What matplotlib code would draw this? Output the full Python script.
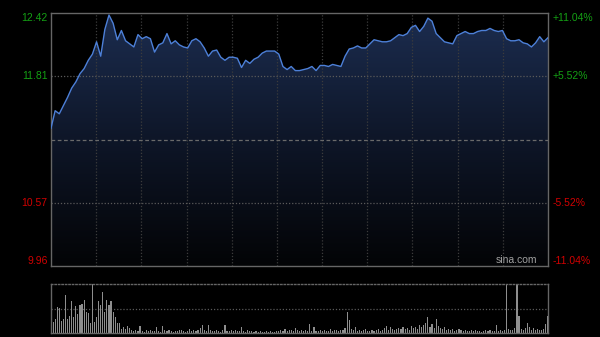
# import packages
import numpy as np
import matplotlib.pyplot as plt
from matplotlib.colors import LinearSegmentedColormap
from matplotlib.patches import Polygon

# data: intraday price sampled every 2 minutes, volume per minute
price = [11.30, 11.47, 11.44, 11.52, 11.60, 11.69, 11.75, 11.83, 11.88, 11.96,
         12.02, 12.14, 12.00, 12.26, 12.40, 12.32, 12.16, 12.25, 12.15, 12.12,
         12.09, 12.21, 12.17, 12.19, 12.17, 12.04, 12.11, 12.13, 12.22, 12.12,
         12.15, 12.11, 12.09, 12.08, 12.15, 12.17, 12.14, 12.08, 12.00, 12.05,
         12.06, 11.99, 11.96, 11.99, 11.99, 11.98, 11.89, 11.96, 11.93, 11.97,
         11.99, 12.03, 12.05, 12.05, 12.05, 12.02, 11.90, 11.87, 11.90, 11.86,
         11.86, 11.87, 11.88, 11.90, 11.86, 11.91, 11.91, 11.90, 11.92, 11.91,
         11.90, 12.00, 12.07, 12.08, 12.10, 12.08, 12.08, 12.12, 12.16, 12.15,
         12.14, 12.14, 12.15, 12.18, 12.21, 12.20, 12.22, 12.28, 12.30, 12.24,
         12.29, 12.37, 12.34, 12.22, 12.18, 12.14, 12.13, 12.12, 12.20, 12.22,
         12.24, 12.22, 12.22, 12.24, 12.25, 12.25, 12.27, 12.25, 12.24, 12.25,
         12.17, 12.15, 12.15, 12.16, 12.13, 12.12, 12.09, 12.13, 12.19, 12.14,
         12.18]

volume = [42, 32, 40, 75, 72, 35, 42, 109, 40, 50, 92, 47, 77, 55, 82, 85, 95, 60, 59, 30,
          142, 32, 45, 92, 80, 120, 62, 95, 80, 92, 62, 47, 30, 29, 12, 17, 12, 19, 15, 8,
          6, 9, 5, 19, 7, 4, 10, 6, 8, 5, 7, 17, 6, 4, 20, 8, 5, 9, 6, 4, 7,
          5, 8, 10, 6, 4, 7, 12, 5, 9, 6, 8, 14, 22, 9, 6, 22, 10, 7, 5, 8,
          6, 4, 9, 24, 7, 5, 8, 6, 10, 5, 7, 16, 6, 4, 8, 5, 7, 3, 6, 4,
          5, 3, 4, 6, 3, 5, 4, 3, 6, 5, 9, 7, 12, 6, 8, 10, 7, 15, 9, 6,
          8, 5, 9, 7, 25, 6, 18, 7, 5, 8, 6, 9, 5, 7, 12, 6, 8, 10, 7, 9,
          8, 14, 61, 37, 12, 9, 16, 7, 10, 6, 8, 12, 7, 5, 9, 6, 8, 11, 7, 10,
          14, 19, 10, 16, 12, 9, 13, 15, 11, 17, 12, 14, 10, 20, 15, 18, 12, 24, 16, 22,
          30, 45, 18, 25, 15, 40, 20, 14, 12, 16, 10, 13, 9, 11, 7, 9, 12, 8, 6, 10,
          7, 5, 8, 6, 9, 5, 7, 4, 6, 10, 5, 8, 6, 7, 22, 5, 8, 6, 9, 142,
          12, 8, 10, 14, 142, 49, 12, 9, 15, 30, 18, 10, 14, 9, 12, 8, 10, 13, 27, 50]

prev_close = 11.19
levels = [12.42, 11.81, 10.57, 9.96]
left_labels = ['12.42', '11.81', '10.57', '9.96']
right_labels = ['+11.04%', '+5.52%', '-5.52%', '-11.04%']

# plot setting
font = 'Liberation Sans'
fs = 7.5
green = '#14a014'
red = '#d20000'
grid_c = '#3c3c3c'
spine_c = '#666666'
y_min, y_max = levels[-1], levels[0]
t_end = 240

fig = plt.figure(figsize=(6, 3.37), dpi=100, facecolor='black')

# price panel
ax = fig.add_axes([51/600, 1-266/337, 497/600, 253/337])
ax.set_facecolor('black')
t = np.linspace(0, t_end, len(price))

# gradient fill under the line
verts = [(0, y_min)] + list(zip(t, price)) + [(t_end, y_min)]
clip = Polygon(verts, closed=True, facecolor='none', edgecolor='none')
ax.add_patch(clip)
cmap = LinearSegmentedColormap.from_list('fill', ['#030406', '#0e1628', '#1c2d50'])
grad = np.linspace(0, 1, 256).reshape(-1, 1)
im = ax.imshow(grad, cmap=cmap, aspect='auto', origin='lower',
               extent=[0, t_end, y_min, y_max], zorder=1)
im.set_clip_path(clip)

for xv in np.linspace(0, t_end, 12)[1:-1]:
    ax.axvline(xv, color=grid_c, lw=0.9, ls=(0, (1, 1.5)), zorder=2)
for yv in [levels[1], levels[2]]:
    ax.axhline(yv, color='#5a5a5a', lw=0.9, ls=(0, (1, 1.5)), zorder=2)
ax.axhline(prev_close, color='#6a6a6a', lw=0.9, ls=(0, (3, 2)), zorder=2)

ax.plot(t, price, color='#4d80d8', lw=1.0, zorder=3)

ax.set_xlim(0, t_end)
ax.set_ylim(y_min, y_max)
ax.set_xticks([])
ax.set_yticks([])
for s in ax.spines.values():
    s.set_color(spine_c)
    s.set_linewidth(1)

trans = ax.get_yaxis_transform()
vas = ['top', 'center', 'center', 'bottom']
for lv, ll, rl, va, c in zip(levels, left_labels, right_labels, vas, [green, green, red, red]):
    ax.text(-0.007, lv, ll, transform=trans, ha='right', va=va, color=c,
            fontsize=fs, family=font)
    ax.text(1.01, lv, rl, transform=trans, ha='left', va=va, color=c,
            fontsize=fs, family=font)

ax.text(0.979, 0.004, 'sina.com', transform=ax.transAxes, ha='right', va='bottom',
        color='#a0a0a0', fontsize=fs, family=font, zorder=4)

# volume panel
vax = fig.add_axes([51/600, 1-333/337, 497/600, 49/337])
vax.set_facecolor('black')
tv = np.linspace(0, t_end, len(volume))
vax.bar(tv, volume, width=0.55, color='#8e8e8e', linewidth=0, zorder=2)
vax.axhline(max(volume) / 2, color='#5a5a5a', lw=0.9, ls=(0, (1, 1.5)), zorder=1)
vax.set_xlim(0, t_end)
vax.set_ylim(0, max(volume))
vax.set_xticks([])
vax.set_yticks([])
for s in vax.spines.values():
    s.set_color(spine_c)
    s.set_linewidth(1)
vax.spines['top'].set_linestyle((0, (1, 1.5)))

plt.savefig('out.png', dpi=100, facecolor='black')
